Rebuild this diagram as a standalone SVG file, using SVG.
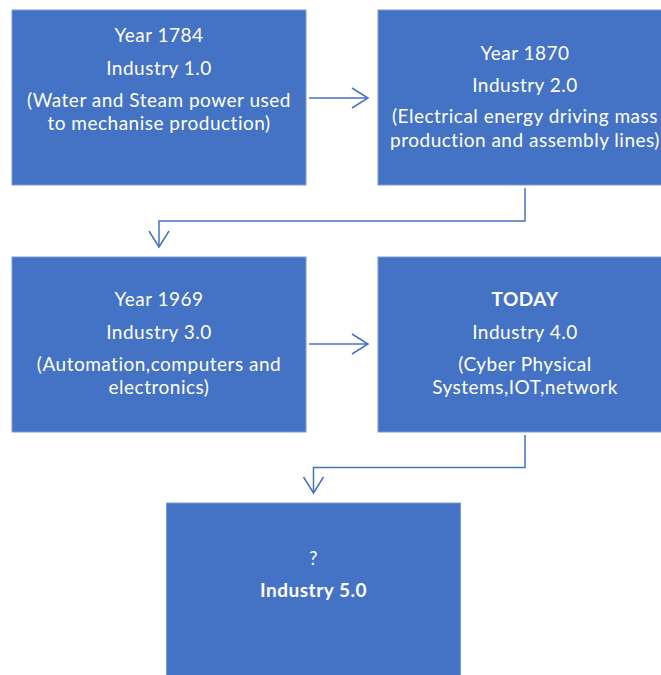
<svg xmlns="http://www.w3.org/2000/svg" width="661" height="675" viewBox="0 0 661 675">
<defs>
<style>
.box{fill:#4472C4;stroke:#7a9bd6;stroke-width:1}
.t{font-family:Lato,"Open Sans",sans-serif;font-size:19px;letter-spacing:0.5px;fill:#ffffff;text-anchor:middle}
.b{font-weight:bold}
.c{fill:none;stroke:#4472C4;stroke-width:1.5}
</style>
<marker id="ah" markerUnits="userSpaceOnUse" markerWidth="20" markerHeight="24" viewBox="0 0 20 24" refX="17" refY="12" orient="auto">
<path d="M1,2 L17,12 L1,22" fill="none" stroke="#4472C4" stroke-width="1.5"/>
</marker>
</defs>
<rect width="661" height="675" fill="#ffffff"/>
<g id="n1">
<rect class="box" x="12" y="10" width="294" height="175"/>
<text class="t" x="159" y="42">Year 1784</text>
<text class="t" x="159" y="75">Industry 1.0</text>
<text class="t" x="159" y="107">(Water and Steam power used</text>
<text class="t" x="159" y="130">to mechanise production)</text>
</g>
<g id="n2">
<rect class="box" x="378" y="10" width="294" height="175"/>
<text class="t" x="525" y="60">Year 1870</text>
<text class="t" x="525" y="92">Industry 2.0</text>
<text class="t" x="525" y="123">(Electrical energy driving mass</text>
<text class="t" x="525" y="147">production and assembly lines)</text>
</g>
<g id="n3">
<rect class="box" x="12" y="257" width="294" height="175"/>
<text class="t" x="159" y="306">Year 1969</text>
<text class="t" x="159" y="339">Industry 3.0</text>
<text class="t" x="159" y="371">(Automation,computers and</text>
<text class="t" x="159" y="394">electronics)</text>
</g>
<g id="n4">
<rect class="box" x="378" y="257" width="294" height="175"/>
<text class="t b" x="525" y="306">TODAY</text>
<text class="t" x="525" y="339">Industry 4.0</text>
<text class="t" x="525" y="371">(Cyber Physical</text>
<text class="t" x="525" y="394">Systems,IOT,network</text>
</g>
<g id="n5">
<rect class="box" x="166.5" y="503" width="294" height="175"/>
<text class="t" x="313.5" y="565">?</text>
<text class="t b" x="313.5" y="597">Industry 5.0</text>
</g>
<g id="connectors">
<path class="c" d="M309,98 H368" marker-end="url(#ah)"/>
<path class="c" d="M525,188 V221 H159 V247" marker-end="url(#ah)"/>
<path class="c" d="M309,344 H368" marker-end="url(#ah)"/>
<path class="c" d="M525,435 V467.5 H313.5 V493" marker-end="url(#ah)"/>
</g>
</svg>
